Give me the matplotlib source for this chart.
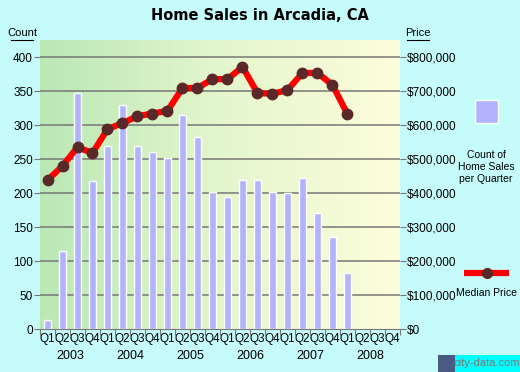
import numpy as np
import matplotlib
matplotlib.use('Agg')
import matplotlib.pyplot as plt
from matplotlib.patches import Rectangle
from matplotlib.lines import Line2D
from matplotlib.colors import LinearSegmentedColormap

# data
years = ['2003', '2004', '2005', '2006', '2007', '2008']
quarters = ['Q1', 'Q2', 'Q3', 'Q4']
sales_count = [13, 115, 347, 218, 269, 329, 269, 260, 251, 315, 282, 201,
               194, 219, 220, 202, 200, 223, 171, 136, 82]
median_price = [438000, 480000, 535000, 518000, 588000, 606000, 626000, 634000,
                642000, 709000, 709000, 735000, 735000, 771000, 694000, 692000,
                703000, 753000, 753000, 718000, 632000]
count_ticks = [0, 50, 100, 150, 200, 250, 300, 350, 400]
price_ticks = [0, 100000, 200000, 300000, 400000, 500000, 600000, 700000, 800000]

bg = '#c6fbfb'
tick_font = ['Liberation Sans', 'DejaVu Sans']

fig = plt.figure(figsize=(5.2, 3.72), dpi=100, facecolor=bg)
ax = fig.add_axes([40/520, 1 - 329.3/372, 360/520, 289.3/372])
ax.set_facecolor(bg)

n_q = len(years) * len(quarters)
ax.set_xlim(-0.5, n_q - 0.5)
ax.set_ylim(0, 425)

# background gradient green -> pale yellow
cmap = LinearSegmentedColormap.from_list('bgc', ['#bae8b5', '#e4f6cc', '#fdfddc'])
grad = np.linspace(0, 1, 256).reshape(1, -1)
ax.imshow(grad, cmap=cmap, aspect='auto', extent=[-0.5, n_q - 0.5, 0, 425], zorder=0)

for t in count_ticks[1:]:
    ax.axhline(t, color='#777777', lw=1.1, zorder=1)

x = np.arange(len(sales_count))
ax.bar(x, sales_count, width=0.42, color='#b3b3fb', edgecolor='white', lw=1, zorder=2)

ax2 = ax.twinx()
ax2.set_ylim(0, 850000)
ax2.plot(x, median_price, color='#ff0000', lw=4.5, zorder=3, solid_capstyle='butt')
ax2.plot(x, median_price, 'o', color='#5a2828', ms=7.5, zorder=4)

for a in (ax, ax2):
    for s in a.spines.values():
        s.set_visible(False)
ax.spines['bottom'].set_visible(True)
ax.spines['bottom'].set_color('#777777')

ax.set_yticks(count_ticks)
ax.set_yticklabels([str(t) for t in count_ticks], family=tick_font, fontsize=8.5)
ax.tick_params(axis='y', length=4, color='#777777', pad=1)
ax2.set_yticks(price_ticks)
ax2.set_yticklabels(['${:,}'.format(t) for t in price_ticks], family=tick_font, fontsize=8.5)
ax2.tick_params(axis='y', length=4, color='#777777', pad=1)

ax.set_xticks(np.arange(-0.5, n_q, 1))
ax.set_xticklabels([])
ax.tick_params(axis='x', length=4, color='#777777')
for i in range(n_q):
    ax.text(i, -6, quarters[i % 4], ha='center', va='top', family=tick_font, fontsize=8.5)
for j, yr in enumerate(years):
    ax.text(j * 4 + 1.5, -31, yr, ha='center', va='top', family=tick_font, fontsize=9)

fig.text(0.5, 1 - 16/372, 'Home Sales in Arcadia, CA', ha='center', va='center',
         fontsize=10.5, fontweight='bold', family='DejaVu Sans')
fig.text(22/520, 1 - 33/372, 'Count', ha='center', va='center', family=tick_font, fontsize=8)
fig.add_artist(Line2D([11/520, 33/520], [1 - 39.5/372] * 2, color='black', lw=0.8))
fig.text(418/520, 1 - 33/372, 'Price', ha='center', va='center', family=tick_font, fontsize=8)
fig.add_artist(Line2D([407/520, 429/520], [1 - 39.5/372] * 2, color='black', lw=0.8))

# legend
fig.add_artist(Rectangle((475/520, 1 - 123/372), 23/520, 23/372, facecolor='#b3b3fb',
                         edgecolor='white', lw=1, transform=fig.transFigure))
fig.text(486/520, 1 - 167/372, 'Count of\nHome Sales\nper Quarter', ha='center', va='center',
         family=tick_font, fontsize=7.5, linespacing=1.3)
fig.add_artist(Line2D([464/520, 509/520], [1 - 273/372] * 2, color='#ff0000', lw=4.5,
                      solid_capstyle='butt'))
fig.add_artist(Line2D([486.5/520], [1 - 273/372], marker='o', color='#5a2828', ms=7))
fig.text(486/520, 1 - 293/372, 'Median Price', ha='center', va='center',
         family=tick_font, fontsize=7.5)

# watermark
fig.add_artist(Rectangle((438/520, 0), 17/520, 17/372, facecolor='#4a5a80',
                         edgecolor='none', transform=fig.transFigure))
fig.add_artist(Rectangle((455/520, 0), 65/520, 17/372, facecolor='#00ffff',
                         edgecolor='none', transform=fig.transFigure))
fig.text(487/520, 8.5/372, 'city-data.com', ha='center', va='center',
         family=tick_font, fontsize=8, color='#777777')

fig.savefig('out.png', dpi=100, facecolor=bg)
